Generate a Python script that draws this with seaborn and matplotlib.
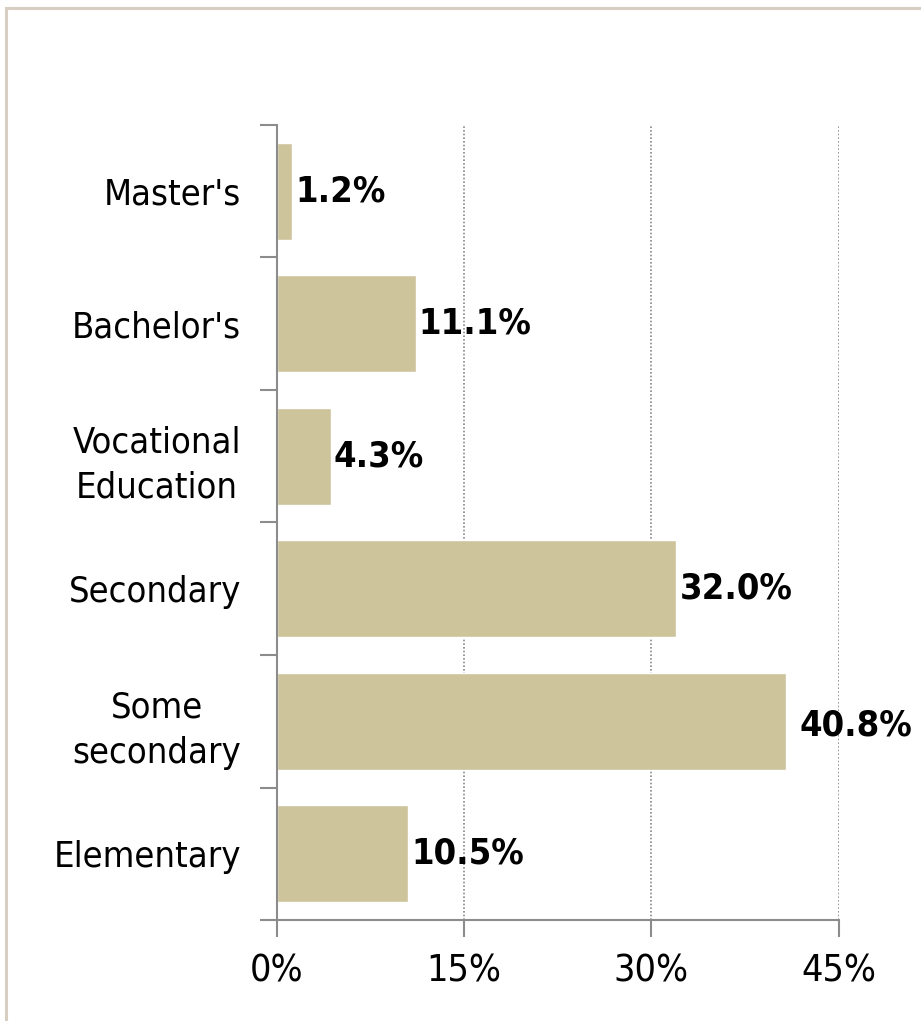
import matplotlib
matplotlib.use('Agg')
import matplotlib.pyplot as plt
import seaborn as sns
import pandas as pd
from matplotlib.patches import Rectangle
from matplotlib.ticker import FixedLocator

categories = ["Master's", "Bachelor's", "Vocational\nEducation", "Secondary", "Some\nsecondary", "Elementary"]
values = [1.2, 11.1, 4.3, 32.0, 40.8, 10.5]
xticks = [0, 15, 30, 45]

df = pd.DataFrame({'cat': categories, 'val': values})

sns.set_style('white')
plt.rcParams['font.family'] = ['DejaVu Sans']
plt.rcParams['font.stretch'] = 'condensed'
plt.rcParams['text.color'] = 'black'
plt.rcParams['xtick.color'] = 'black'
plt.rcParams['ytick.color'] = 'black'

fig = plt.figure(figsize=(9.21, 10.21), dpi=100)
ax = fig.add_axes([0.3008, 0.0989, 0.6102, 0.7787])

sns.barplot(data=df, x='val', y='cat', orient='h', color='#CDC49C', saturation=1,
            width=0.73, ax=ax)

ax.set_xlim(0, 45.03)
ax.set_ylim(5.5, -0.5)
ax.set_xticks(xticks)
ax.set_xticklabels([f'{t}%' for t in xticks], fontsize=27, fontstretch='condensed')
ax.set_xlabel('')
ax.set_ylabel('')
ax.set_yticks(range(len(categories)))
ax.set_yticklabels(categories, fontsize=26, fontstretch='condensed',
                   ha='right', multialignment='center', linespacing=1.4)
ax.tick_params(axis='y', which='major', left=True, length=0, pad=26)
ax.yaxis.set_minor_locator(FixedLocator([i - 0.5 for i in range(len(categories) + 1)]))
ax.tick_params(axis='y', which='minor', left=True, length=12, width=1.5, color='#8c8c8c', direction='out')
ax.tick_params(axis='x', which='major', bottom=True, length=12, width=1.5, color='#8c8c8c',
               labelcolor='black', direction='out', pad=12)

ax.grid(axis='x', linestyle=(0, (1, 1.2)), color='#8a8a8a', linewidth=1.2)
ax.set_axisbelow(True)
for s in ['top', 'right']:
    ax.spines[s].set_visible(False)
for s in ['left', 'bottom']:
    ax.spines[s].set_color('#8c8c8c')
    ax.spines[s].set_linewidth(1.5)

for i, v in enumerate(values):
    off = 1.1 if v > 40 else 0.25
    dy = 0.03 if v > 40 else 0
    ax.text(v + off, i + dy, f'{v:.1f}%', va='center', ha='left', fontsize=26,
            fontweight='bold', color='black', fontstretch='condensed')

fig.patches.append(Rectangle((6 / 921, -0.05), 1.1, 1 - 8 / 1021 + 0.05, transform=fig.transFigure,
                             fill=False, edgecolor='#D8CEC2', linewidth=2.2))

fig.savefig('out.png', dpi=100)
